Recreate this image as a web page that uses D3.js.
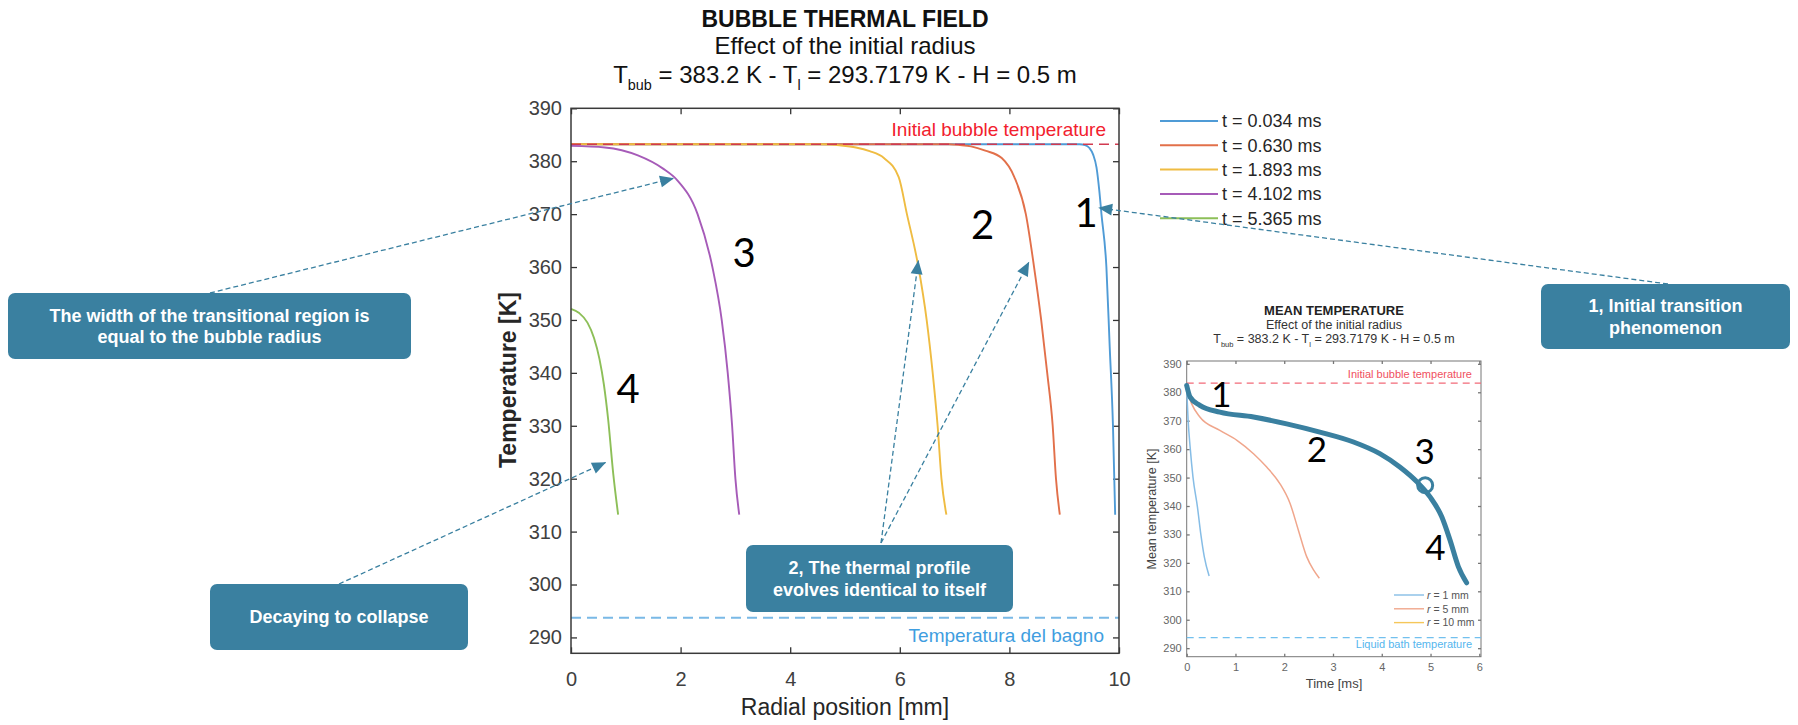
<!DOCTYPE html>
<html>
<head>
<meta charset="utf-8">
<script src="https://cdn.jsdelivr.net/npm/d3@7"></script>
<style>
  body { margin: 0; background: #fff; }
  svg { display: block; font-family: "Liberation Sans", Arial, sans-serif; }
</style>
</head>
<body>
<svg width="1798" height="725"></svg>
<script>
// main chart: temperature profiles [radial mm, temperature K]
var legendLabels = ['t = 0.034 ms', 't = 0.630 ms', 't = 1.893 ms', 't = 4.102 ms', 't = 5.365 ms'];
var profile0034 = [[0,383.2],[9.28,383.2],[9.38,383.05],[9.46,382.5],[9.53,381.2],[9.59,378.8],[9.64,374.5],[9.68,370],[9.77,360],[9.83,345],[9.89,330],[9.93,313.2]];
var profile0630 = [[0,383.2],[6.9,383.2],[7.1,383.05],[7.3,382.8],[7.56,382],[7.86,380.6],[8.09,377],[8.30,370],[8.45,360],[8.58,350],[8.69,340],[8.79,330],[8.85,320],[8.92,313.2]];
var profile1893 = [[0,383.2],[4.6,383.2],[4.9,383.0],[5.2,382.6],[5.45,381.9],[5.71,380.6],[5.98,377],[6.13,370],[6.34,360],[6.49,350],[6.60,340],[6.69,330],[6.76,320],[6.85,313.2]];
var profile4102 = [[0,382.9],[0.62,382.6],[1.22,381.1],[1.68,378.6],[1.94,376.4],[2.31,370],[2.58,360],[2.75,350],[2.86,340],[2.94,330],[3.00,320],[3.07,313.2]];
var profile5365 = [[0,352.1],[0.15,351.3],[0.30,349.5],[0.42,346.6],[0.52,342.6],[0.60,337.8],[0.68,331],[0.77,321],[0.86,313.2]];
var profiles = [profile0034, profile0630, profile1893, profile4102, profile5365];
var xTicks = [0, 2, 4, 6, 8, 10];
var yTicks = [290, 300, 310, 320, 330, 340, 350, 360, 370, 380, 390];
var bubbleTemp = 383.2;
var bathTemp = 293.7179;

// inset: mean temperature [time ms, temperature K]
var insetLabels = ['1 mm', '5 mm', '10 mm'];
var mean1mm = [[0,381],[0.03,370],[0.07,360.8],[0.13,350],[0.22,339.7],[0.29,330],[0.36,322.2],[0.46,315.4]];
var mean5mm = [[0,381],[0.10,376],[0.27,371.3],[0.68,366.6],[1.03,363.1],[1.37,358.4],[1.64,353.7],[1.91,347.9],[2.12,340.9],[2.29,331.5],[2.46,322.2],[2.60,317.5],[2.72,314.6]];
var mean10mm = [[0,382.4],[0.07,378.3],[0.27,375.4],[0.68,373.0],[1.37,371.3],[2.05,368.9],[2.73,366.0],[3.42,362.5],[3.96,358.4],[4.37,353.7],[4.72,348.5],[4.99,343.2],[5.23,336.2],[5.40,328.0],[5.57,318.7],[5.74,313.0]];
var means = [mean1mm, mean5mm, mean10mm];
var insetXTicks = [0, 1, 2, 3, 4, 5, 6];

var colors = ['#4f9bd6', '#e2704a', '#efbc42', '#a65bb8', '#8dbf58'];
var insetColors = ['#86bde6', '#f0a68c', '#f5c75a'];
var teal = '#3a80a0';

var svg = d3.select('svg');

var x = d3.scaleLinear().domain([0, 10]).range([571, 1119]);
var y = d3.scaleLinear().domain([287, 390]).range([653.3, 108.3]);

svg.append('defs').append('marker')
    .attr('id', 'arrow')
    .attr('markerUnits', 'userSpaceOnUse')
    .attr('markerWidth', 16).attr('markerHeight', 16)
    .attr('viewBox', '-15 -8 16 16')
    .attr('refX', 0).attr('refY', 0)
    .attr('orient', 'auto')
  .append('path')
    .attr('d', 'M0,0L-14,-6L-14,6Z')
    .attr('fill', teal);

// titles
var title = svg.append('g').attr('fill', '#111').attr('text-anchor', 'middle');
title.append('text').attr('x', 845).attr('y', 27)
    .attr('font-size', 23).attr('font-weight', 'bold').text('BUBBLE THERMAL FIELD');
title.append('text').attr('x', 845).attr('y', 54)
    .attr('font-size', 24).text('Effect of the initial radius');

function tempLine(sel, cx, cy, size) {
  var t = sel.append('text').attr('x', cx).attr('y', cy).attr('font-size', size);
  t.append('tspan').text('T');
  t.append('tspan').attr('font-size', size * 0.6).attr('dy', size * 0.3).text('bub');
  t.append('tspan').attr('dy', -size * 0.3).text(' = 383.2 K - T');
  t.append('tspan').attr('font-size', size * 0.6).attr('dy', size * 0.3).text('l');
  t.append('tspan').attr('dy', -size * 0.3).text(' = 293.7179 K - H = 0.5 m');
  return t;
}
tempLine(title, 845, 83, 24);

// main axes
function styleAxis(g, size, color) {
  g.select('.domain').remove();
  g.selectAll('line').attr('stroke', color).attr('stroke-width', 1.3);
  g.selectAll('text').attr('font-size', size).attr('fill', '#404040')
      .attr('font-family', '"Liberation Sans", Arial, sans-serif');
}
svg.append('g').attr('transform', 'translate(0,653.3)')
    .call(d3.axisBottom(x).tickValues(xTicks).tickSize(-6).tickPadding(19))
    .call(styleAxis, 20, '#333');
svg.append('g').attr('transform', 'translate(0,108.3)')
    .call(d3.axisTop(x).tickValues(xTicks).tickSize(-6).tickFormat(''))
    .call(styleAxis, 20, '#333');
svg.append('g').attr('transform', 'translate(571,0)')
    .call(d3.axisLeft(y).tickValues(yTicks).tickSize(-6).tickPadding(9))
    .call(styleAxis, 20, '#333');
svg.append('g').attr('transform', 'translate(1119,0)')
    .call(d3.axisRight(y).tickValues(yTicks).tickSize(-6).tickFormat(''))
    .call(styleAxis, 20, '#333');

svg.append('text').attr('x', 845).attr('y', 715).attr('text-anchor', 'middle')
    .attr('font-size', 23).attr('fill', '#262626').text('Radial position [mm]');
svg.append('text').attr('transform', 'translate(508,380) rotate(-90)')
    .attr('dy', '0.35em').attr('text-anchor', 'middle')
    .attr('font-size', 23).attr('font-weight', 'bold').attr('fill', '#262626')
    .text('Temperature [K]');

// profiles
var line = d3.line().x(function(d) { return x(d[0]); }).y(function(d) { return y(d[1]); })
    .curve(d3.curveMonotoneX);
svg.append('g').selectAll('path').data(profiles).enter().append('path')
    .attr('d', line)
    .attr('fill', 'none')
    .attr('stroke', function(d, i) { return colors[i]; })
    .attr('stroke-width', 1.9);

// reference lines (drawn over the curves)
svg.append('line').attr('x1', x(0)).attr('x2', x(10)).attr('y1', y(bubbleTemp)).attr('y2', y(bubbleTemp))
    .attr('stroke', '#d23a50').attr('stroke-width', 1.6).attr('stroke-dasharray', '10,6');
svg.append('line').attr('x1', x(0)).attr('x2', x(10)).attr('y1', y(bathTemp)).attr('y2', y(bathTemp))
    .attr('stroke', '#7ab9e6').attr('stroke-width', 1.8).attr('stroke-dasharray', '10,6');
svg.append('text').attr('x', 1106).attr('y', 136.4).attr('text-anchor', 'end')
    .attr('font-size', 19).attr('fill', '#f2202e').text('Initial bubble temperature');
svg.append('text').attr('x', 1104).attr('y', 641.7).attr('text-anchor', 'end')
    .attr('font-size', 19).attr('fill', '#3f9ee0').text('Temperatura del bagno');

svg.append('rect').attr('x', x(0)).attr('y', y(390)).attr('width', x(10) - x(0))
    .attr('height', y(287) - y(390)).attr('fill', 'none')
    .attr('stroke', '#3a3a3a').attr('stroke-width', 1.5);

// legend
var legend = svg.append('g').selectAll('g').data(legendLabels).enter().append('g')
    .attr('transform', function(d, i) { return 'translate(1160,' + (121 + i * 24.3) + ')'; });
legend.append('line').attr('x1', 0).attr('x2', 58)
    .attr('stroke', function(d, i) { return colors[i]; }).attr('stroke-width', 2);
legend.append('text').attr('x', 62).attr('dy', '0.36em')
    .attr('font-size', 18).attr('fill', '#262626').text(function(d) { return d; });

// stage numbers on main chart
var mainNumbers = [['1', 9.40, 367.6], ['2', 7.51, 365.3], ['3', 3.16, 360.0], ['4', 1.04, 334.3]];
svg.append('g').selectAll('text').data(mainNumbers).enter().append('text')
    .attr('x', function(d) { return x(d[1]); }).attr('y', function(d) { return y(d[2]); })
    .attr('text-anchor', 'middle').attr('font-family', 'Lato, "Open Sans", sans-serif')
    .attr('font-size', 40).attr('fill', '#000').text(function(d) { return d[0]; });

// ---------------- inset ----------------
var xi = d3.scaleLinear().domain([0, 6]).range([1186.7, 1479.3]);
var yi = d3.scaleLinear().domain([287, 391]).range([656.7, 361]);

var inset = svg.append('g');
var it = inset.append('g').attr('text-anchor', 'middle').attr('fill', '#222');
it.append('text').attr('x', 1334).attr('y', 315).attr('font-size', 13)
    .attr('font-weight', 'bold').text('MEAN TEMPERATURE');
it.append('text').attr('x', 1334).attr('y', 329).attr('font-size', 12.5).attr('fill', '#333')
    .text('Effect of the initial radius');
tempLine(it, 1334, 343.3, 12.5).attr('fill', '#333');

inset.append('rect').attr('x', xi(0)).attr('y', yi(391)).attr('width', 1481 - xi(0))
    .attr('height', yi(287) - yi(391)).attr('fill', 'none').attr('stroke', '#777').attr('stroke-width', 1);
inset.append('g').attr('transform', 'translate(0,' + yi(287) + ')')
    .call(d3.axisBottom(xi).tickValues(insetXTicks).tickSize(-3).tickPadding(7).tickFormat(d3.format('d')))
    .call(styleAxis, 11, '#777');
inset.append('g').attr('transform', 'translate(0,' + yi(391) + ')')
    .call(d3.axisTop(xi).tickValues(insetXTicks).tickSize(-3).tickFormat(''))
    .call(styleAxis, 11, '#777');
inset.append('g').attr('transform', 'translate(' + xi(0) + ',0)')
    .call(d3.axisLeft(yi).tickValues(yTicks).tickSize(-3).tickPadding(5))
    .call(styleAxis, 11, '#777');
inset.append('g').attr('transform', 'translate(1481,0)')
    .call(d3.axisRight(yi).tickValues(yTicks).tickSize(-3).tickFormat(''))
    .call(styleAxis, 11, '#777');
inset.selectAll('.tick text').attr('fill', '#666');

inset.append('text').attr('x', 1334).attr('y', 688).attr('text-anchor', 'middle')
    .attr('font-size', 13).attr('fill', '#444').text('Time [ms]');
inset.append('text').attr('transform', 'translate(1152,509) rotate(-90)')
    .attr('dy', '0.35em').attr('text-anchor', 'middle')
    .attr('font-size', 12.5).attr('fill', '#444').text('Mean temperature [K]');

inset.append('line').attr('x1', xi(0)).attr('x2', 1481).attr('y1', yi(bubbleTemp)).attr('y2', yi(bubbleTemp))
    .attr('stroke', '#f26a78').attr('stroke-width', 1.3).attr('stroke-dasharray', '7,5');
inset.append('line').attr('x1', xi(0)).attr('x2', 1481).attr('y1', yi(bathTemp)).attr('y2', yi(bathTemp))
    .attr('stroke', '#72c0ee').attr('stroke-width', 1.3).attr('stroke-dasharray', '7,5');
inset.append('text').attr('x', 1472).attr('y', 377.7).attr('text-anchor', 'end')
    .attr('font-size', 11).attr('fill', '#f05060').text('Initial bubble temperature');
inset.append('text').attr('x', 1472).attr('y', 648.3).attr('text-anchor', 'end')
    .attr('font-size', 11).attr('fill', '#55b6ee').text('Liquid bath temperature');

var lineI = d3.line().x(function(d) { return xi(d[0]); }).y(function(d) { return yi(d[1]); })
    .curve(d3.curveMonotoneX);
inset.append('g').selectAll('path').data(means).enter().append('path')
    .attr('d', lineI).attr('fill', 'none')
    .attr('stroke', function(d, i) { return insetColors[i]; }).attr('stroke-width', 1.5);

var il = inset.append('g').selectAll('g').data(insetLabels).enter().append('g')
    .attr('transform', function(d, i) { return 'translate(1394,' + (595 + i * 13.8) + ')'; });
il.append('line').attr('x1', 0).attr('x2', 30)
    .attr('stroke', function(d, i) { return insetColors[i]; }).attr('stroke-width', 1.4);
var ilt = il.append('text').attr('x', 33).attr('dy', '0.36em').attr('font-size', 10.5).attr('fill', '#555');
ilt.append('tspan').attr('font-style', 'italic').text('r');
ilt.append('tspan').text(function(d) { return ' = ' + d; });

// highlight of the 10 mm curve
inset.append('path').datum(mean10mm).attr('d', lineI).attr('fill', 'none')
    .attr('stroke', teal).attr('stroke-width', 5).attr('stroke-linecap', 'round');
inset.append('circle').attr('cx', xi(4.89)).attr('cy', yi(347.3)).attr('r', 7.5)
    .attr('fill', 'none').attr('stroke', teal).attr('stroke-width', 3);

var insetNumbers = [['1', 0.71, 374.8], ['2', 2.67, 355.5], ['3', 4.88, 354.7], ['4', 5.10, 321.0]];
inset.append('g').selectAll('text').data(insetNumbers).enter().append('text')
    .attr('x', function(d) { return xi(d[1]); }).attr('y', function(d) { return yi(d[2]); })
    .attr('text-anchor', 'middle').attr('font-family', 'Lato, "Open Sans", sans-serif')
    .attr('font-size', 35).attr('fill', '#000').text(function(d) { return d[0]; });

// ---------------- callouts ----------------
var callouts = [
  {x: 8, y: 293, w: 403, h: 66, lines: ['The width of the transitional region is', 'equal to the bubble radius']},
  {x: 210, y: 584, w: 258, h: 66, lines: ['Decaying to collapse']},
  {x: 746, y: 545, w: 267, h: 67, lines: ['2, The thermal profile', 'evolves identical to itself']},
  {x: 1541, y: 284, w: 249, h: 65, lines: ['1, Initial transition', 'phenomenon']}
];
var arrows = [
  {from: [210, 293], to: [1.88, 376.8]},
  {from: [339, 584], to: [0.64, 323.1]},
  {from: [881, 543], to: [6.34, 361.3]},
  {from: [881, 543], to: [8.36, 361.0]},
  {from: [1668, 284], to: [9.62, 371.2]}
];

svg.append('g').selectAll('line').data(arrows).enter().append('line')
    .attr('x1', function(d) { return d.from[0]; }).attr('y1', function(d) { return d.from[1]; })
    .attr('x2', function(d) { return x(d.to[0]); }).attr('y2', function(d) { return y(d.to[1]); })
    .attr('stroke', teal).attr('stroke-width', 1.3).attr('stroke-dasharray', '5,3')
    .attr('marker-end', 'url(#arrow)');

var box = svg.append('g').selectAll('g').data(callouts).enter().append('g');
box.append('rect')
    .attr('x', function(d) { return d.x; }).attr('y', function(d) { return d.y; })
    .attr('width', function(d) { return d.w; }).attr('height', function(d) { return d.h; })
    .attr('rx', 7).attr('fill', teal);
box.each(function(d) {
  var g = d3.select(this);
  var n = d.lines.length;
  d.lines.forEach(function(t, i) {
    g.append('text')
        .attr('x', d.x + d.w / 2)
        .attr('y', d.y + d.h / 2 + (i - (n - 1) / 2) * 21.6)
        .attr('dy', '0.36em')
        .attr('text-anchor', 'middle')
        .attr('font-size', 18).attr('font-weight', 'bold').attr('fill', '#fff')
        .text(t);
  });
});
</script>
</body>
</html>
